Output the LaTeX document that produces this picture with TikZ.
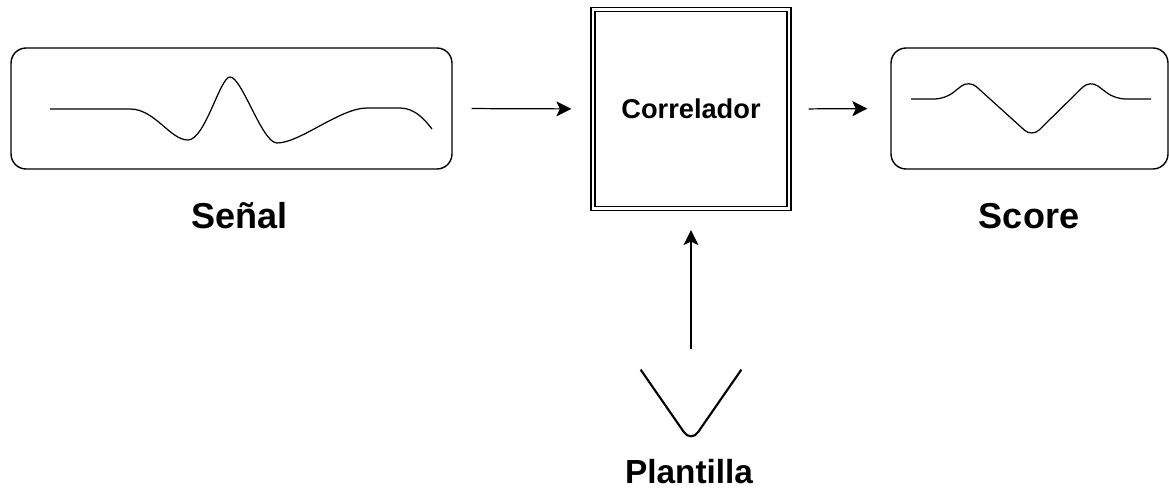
\documentclass[tikz,border=0pt]{standalone}
\usepackage{fontspec}
\setmainfont{Liberation Sans}
\usetikzlibrary{arrows.meta}

\tikzset{
  onda/.style={draw, rounded corners=0.3cm, line width=0.8pt},
  freccia/.style={-{Stealth[length=0.3cm, width=0.3cm, inset=0.07cm]}, line width=0.7pt},
  etichetta/.style={anchor=base, font=\bfseries\fontsize{20.5}{24}\selectfont}
}

\begin{document}
\begin{tikzpicture}[x=0.02cm, y=-0.02cm]
        \useasboundingbox (0,0) rectangle (1169,490); % margini dell'immagine
        \node[onda, minimum width=8.82cm, minimum height=2.42cm] (senal) at (231.5,108.5) {}; % riquadro del segnale
        \node[draw, double, line width=0.75pt, double distance=1.6pt, minimum width=3.92cm, minimum height=3.98cm,
              font=\bfseries\fontsize{15.5}{18}\selectfont] (corr) at (691,109) {Correlador}; % correlatore
        \node[onda, minimum width=5.54cm, minimum height=2.42cm] (score) at (1029.5,108.5) {}; % riquadro del punteggio
        \node[minimum width=2cm, minimum height=1.44cm, inner sep=0pt] (plant) at (691,406) {}; % spazio della plantilla
        \draw[line width=0.7pt] (50,109) -- (130,109) .. controls (155,109) and (170,140) .. (188,140)
              .. controls (205,140) and (220,77) .. (230,77) .. controls (242,77) and (262,143) .. (277,143)
              .. controls (300,143) and (340,108) .. (367,108) -- (400,108)
              .. controls (415,108) and (425,120) .. (432,129); % curva del segnale
        \draw[line width=0.7pt, rounded corners=0.2cm] (911,99) -- (945,99) -- (969,80) -- (1032,137)
              -- (1090,80) -- (1115,99) -- (1151,99); % curva del punteggio
        \draw[line width=1.2pt, rounded corners=0.25cm] (plant.north west) -- (plant.south) -- (plant.north east); % forma a V
        \draw[freccia, shorten <=0.38cm, shorten >=0.42cm] (senal.east) -- (corr.west); % segnale verso correlatore
        \draw[freccia, shorten <=0.38cm, shorten >=0.46cm] (corr.east) -- (score.west); % correlatore verso punteggio
        \draw[freccia, shorten <=0.42cm, shorten >=0.42cm] (plant.north) -- (corr.south); % plantilla verso correlatore
        \node[etichetta] (lsenal) at (239.5,228) {Señal}; % etichetta segnale
        \node[etichetta] (lscore) at (1029,228) {Score}; % etichetta punteggio
        \node[etichetta, font=\bfseries\fontsize{19}{22}\selectfont] (lplant) at (689,483) {Plantilla}; % etichetta plantilla
    \end{tikzpicture}
\end{document}
